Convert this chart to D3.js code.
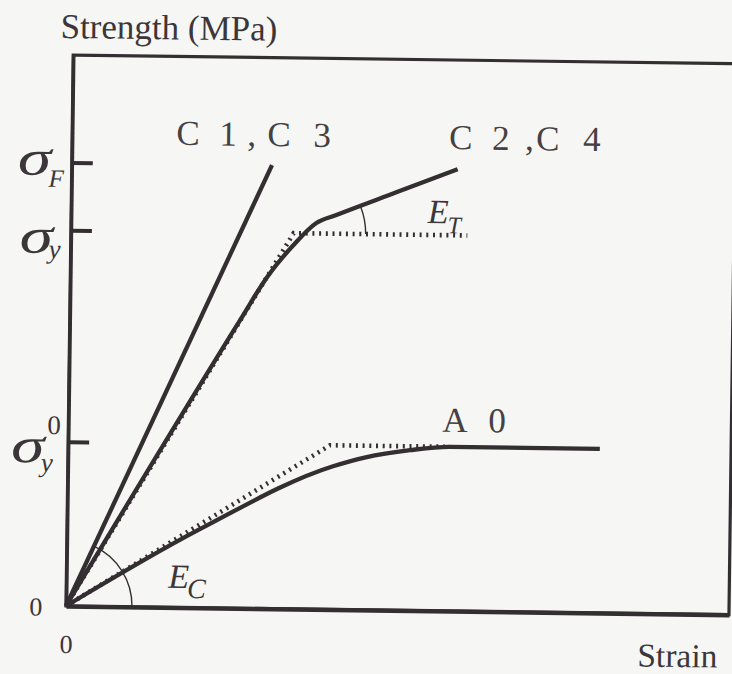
<!DOCTYPE html>
<html>
<head>
<meta charset="utf-8">
<script src="https://cdn.jsdelivr.net/npm/d3@7/dist/d3.min.js"></script>
<style>
  html, body { margin: 0; padding: 0; background: #f6f6f4; }
  svg { display: block; }
  svg text { font-family: "Liberation Serif", serif; }
</style>
</head>
<body>
<svg id="chart" width="732" height="674"></svg>
<script>
// Schematic stress–strain diagram: strain on x, strength on y (arbitrary units 0–100)
const strainDomain = [0, 100];
const strengthDomain = [0, 100];

// Characteristic strength levels marked on the strength axis: σF, σy, σy0
const levelKeys = ["F", "y", "y0"];
const levelValues = [80.5, 68.2, 29.8];

// Curve captions
const curveNames = ["C 1,C 3", "C 2,C 4", "A 0"];

// C1, C3: linear up to failure
const c13Strain = [0, 30.2];
const c13Stress = [0, 80.5];

// C2, C4: elastic branch, yielding, then straight hardening branch
const c24Strain = [0, 25.7, 29.7, 33.5, 37.0, 40.0, 49.0, 58.2];
const c24Stress = [0, 52.3, 60.2, 65.9, 70.1, 71.6, 75.85, 80.2];
// C2, C4 bilinear idealisation (elastic – perfectly plastic)
const c24IdealStrain = [0, 33.6, 59.8];
const c24IdealStress = [0, 68.2, 68.2];

// A0: gradual softening of the slope into a plateau
const a0Strain = [0, 20.1, 40.0, 44.9, 51.6, 57.6, 80.2];
const a0Stress = [0, 14.3, 26.0, 27.7, 29.1, 29.8, 29.8];
// A0 bilinear idealisation
const a0IdealStrain = [0, 39.5, 57.6];
const a0IdealStress = [0, 29.8, 29.8];

// ---------------------------------------------------------------------------
const W = 663, H = 551, X0 = 66, Y0 = 55;
const ink = "#332e31";
const textInk = "#3b3639";

const svg = d3.select("#chart");
svg.append("rect").attr("width", 732).attr("height", 674).attr("fill", "#f6f6f4");

// whole figure sits slightly skewed on the page
const root = svg.append("g").attr("transform", `rotate(0.75, ${X0}, ${Y0 + H})`);
const g = root.append("g").attr("transform", `translate(${X0},${Y0})`);

const x = d3.scaleLinear().domain(strainDomain).range([0, W]);
const y = d3.scaleLinear().domain(strengthDomain).range([H, 0]);

const serifStyle = sel => sel.style("font-family", "'Liberation Serif', serif");

// plot frame
g.append("rect")
  .attr("width", W).attr("height", H)
  .attr("fill", "none").attr("stroke", ink).attr("stroke-width", 3.2);

// strength axis with inward ticks at the characteristic levels
g.append("g")
  .call(d3.axisLeft(y).tickValues(levelValues).tickSize(-21).tickSizeOuter(0).tickFormat(""))
  .call(a => {
    a.select(".domain").attr("stroke", ink).attr("stroke-width", 3.6);
    a.selectAll(".tick line").attr("stroke", ink).attr("stroke-width", 4);
  });

// zero labels on both axes
g.append("g")
  .call(d3.axisLeft(y).tickValues([0]).tickSize(0).tickSizeOuter(0).tickPadding(24).tickFormat(d3.format("d")))
  .call(a => {
    a.select(".domain").remove();
    a.selectAll(".tick text").attr("dy", 9.5).attr("text-anchor", "middle").attr("x", -30)
      .attr("font-size", 26).attr("fill", textInk).call(serifStyle);
  });

g.append("g")
  .attr("transform", `translate(0,${H})`)
  .call(d3.axisBottom(x).tickValues([0]).tickSize(0).tickSizeOuter(0).tickFormat(d3.format("d")))
  .call(a => {
    a.select(".domain").attr("stroke", ink).attr("stroke-width", 4.6);
    a.selectAll(".tick text").attr("y", 47).attr("dy", 0)
      .attr("font-size", 26).attr("fill", textInk).call(serifStyle);
  });

// axis titles
g.append("text")
  .attr("x", -13).attr("y", -17)
  .attr("font-size", 35).attr("fill", textInk).call(serifStyle)
  .text("Strength (MPa)");

g.append("text")
  .attr("x", W - 11).attr("y", H + 53).attr("text-anchor", "end")
  .attr("font-size", 33.5).attr("fill", textInk).call(serifStyle)
  .text("Strain");

// ---------------------------------------------------------------------------
const line = d3.line().x(d => x(d[0])).y(d => y(d[1]));
const smooth = d3.line().x(d => x(d[0])).y(d => y(d[1])).curve(d3.curveMonotoneX);

function dotted(pts) {
  g.append("path").attr("d", line(pts))
    .attr("fill", "none").attr("stroke", ink).attr("stroke-width", 4.6)
    .attr("stroke-dasharray", "2 4.7");
}
function solid(pts, gen) {
  g.append("path").attr("d", gen(pts))
    .attr("fill", "none").attr("stroke", ink).attr("stroke-width", 4.3)
    .attr("stroke-linejoin", "round");
}

dotted(d3.zip(c24IdealStrain, c24IdealStress));
dotted(d3.zip(a0IdealStrain, a0IdealStress));
solid(d3.zip(c13Strain, c13Stress), line);
solid(d3.zip(c24Strain, c24Stress), smooth);
solid(d3.zip(a0Strain, a0Stress), smooth);

// modulus arcs
function angleArc(cx, cy, r, theta) {
  const p = d3.path();
  p.moveTo(cx + r, cy);
  p.arc(cx, cy, r, 0, -theta, true);
  g.append("path").attr("d", p.toString())
    .attr("fill", "none").attr("stroke", ink).attr("stroke-width", 1.4);
}
const last = c24Strain.length - 1;
const thetaC = Math.atan2(y(0) - y(c13Stress[1]), x(c13Strain[1]) - x(0));
angleArc(x(0), y(0), 66, thetaC);
const thetaT = Math.atan2(y(c24IdealStress[1]) - y(c24Stress[last]), x(c24Strain[last]) - x(c24IdealStrain[1]));
angleArc(x(c24IdealStrain[1]), y(c24IdealStress[1]), 72, thetaT);

// modulus labels
function modLabel(px, py, main, sub, subSize, subDx, subDy) {
  const t = g.append("text").attr("x", px).attr("y", py)
    .attr("font-style", "italic").attr("fill", textInk)
    .attr("font-size", 34).call(serifStyle);
  t.append("tspan").text(main);
  t.append("tspan").attr("font-size", subSize).attr("dx", subDx).attr("dy", subDy).text(sub);
}
modLabel(x(c24IdealStrain[1]) + 134, y(c24IdealStress[1]) - 12, "E", "T", 24, -1, 10);
modLabel(x(0) + 102, y(0) - 19.5, "E", "C", 28, -2, 10);

// curve captions, glyph by glyph in a wide-spaced layout
const captionGlyphX = [
  [0, 22, 43, 71, 91, 115, 137],
  [0, 22, 43, 76, 87, 112, 134],
  [0, 25, 46]
];
const captionAt = [
  [x(c13Strain[1]) - 96, y(c13Stress[1]) - 19],
  [x(c24Strain[last]) - 9, y(c24Stress[last]) - 20],
  [x(a0IdealStrain[2]) - 8, y(a0IdealStress[2]) - 15]
];
curveNames.forEach((name, i) => {
  g.append("text")
    .attr("x", captionGlyphX[i].map(d => (captionAt[i][0] + d).toFixed(1)).join(" "))
    .attr("y", captionAt[i][1])
    .attr("font-size", 35).attr("fill", "#454143").call(serifStyle)
    .text(name);
});

// sigma labels beside the strength ticks
function sigma(px, py) {
  g.append("text")
    .attr("transform", `translate(${px},${py}) scale(1.35,1)`)
    .attr("font-style", "italic").attr("font-size", 50)
    .attr("fill", textInk).call(serifStyle).text("σ");
}
function small(px, py, txt, size, italic) {
  g.append("text").attr("x", px).attr("y", py)
    .attr("font-style", italic ? "italic" : "normal")
    .attr("font-size", size).attr("fill", textInk).call(serifStyle).text(txt);
}
// σF
sigma(-54, y(levelValues[0]) + 12.6);
small(-23, y(levelValues[0]) + 24.6, "F", 25, true);
// σy
sigma(-51, y(levelValues[1]) + 23);
small(-22, y(levelValues[1]) + 28, "y", 27, true);
// σy with superscript 0
sigma(-57, y(levelValues[2]) + 21);
small(-21, y(levelValues[2]) - 7.5, "0", 27, false);
small(-27, y(levelValues[2]) + 30, "y", 27, true);
</script>
</body>
</html>
